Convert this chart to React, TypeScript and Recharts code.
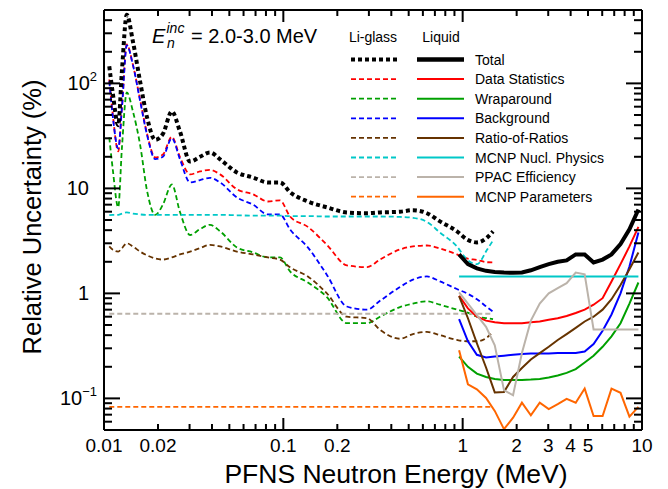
import React from 'react';
import { LineChart, Line, XAxis, YAxis, Customized } from 'recharts';

const FONT = '"Liberation Sans", Arial, Helvetica, sans-serif';

// ---- Li-glass detector (dashed curves) ----
const liEnergy = [0.0107, 0.0112, 0.012, 0.0126, 0.0134, 0.0145, 0.0159, 0.0174, 0.0193, 0.0213, 0.0239, 0.0265, 0.0302, 0.0343, 0.039, 0.0444, 0.0551, 0.0678, 0.0821, 0.0958, 0.109, 0.137, 0.175, 0.226, 0.293, 0.346, 0.447, 0.528, 0.632, 0.747, 0.929, 1.057, 1.202, 1.367, 1.477];
const liTotal = [146, 80, 40, 135, 450, 250, 104, 47, 29, 33, 54, 35, 18, 20, 22, 18.9, 14.2, 12.7, 11.4, 11.4, 9.2, 7.5, 6.6, 5.9, 5.8, 5.9, 6.0, 6.2, 5.8, 4.85, 3.9, 3.27, 3.06, 3.4, 3.9];
const liStat = [109, 50, 22.5, 60, 235, 150, 70, 33, 19.7, 21, 31, 20, 13.6, 14.5, 15, 13.6, 9.8, 8.8, 7.5, 7.7, 5.4, 4.3, 2.9, 1.85, 1.78, 2.1, 2.62, 2.8, 2.86, 2.68, 2.35, 2.15, 2.08, 1.98, 1.97];
const liWrap = [30.6, 15, 6.6, 25, 82, 54, 26, 9.4, 5.6, 7, 10.9, 6.0, 3.6, 4.1, 4.5, 3.9, 2.74, 2.46, 2.2, 2.2, 1.62, 1.27, 0.92, 0.52, 0.52, 0.6, 0.74, 0.8, 0.84, 0.78, 0.7, 0.66, 0.6, 0.58, 0.57];
const liBkg = [105, 48, 24, 60, 230, 150, 68, 32, 19, 20, 30, 19, 11.4, 12, 12.6, 11.4, 8.2, 7.0, 5.65, 5.65, 4.07, 2.74, 1.5, 0.75, 0.7, 0.85, 1.15, 1.35, 1.45, 1.3, 1.1, 1.0, 0.88, 0.74, 0.67];
const liRor = [2.8, 2.6, 2.5, 2.7, 3.0, 2.8, 2.5, 2.3, 2.15, 2.1, 2.2, 2.35, 2.5, 2.7, 2.9, 2.8, 2.5, 2.35, 2.2, 2.1, 1.77, 1.45, 1.0, 0.6, 0.58, 0.45, 0.37, 0.41, 0.43, 0.4, 0.36, 0.35, 0.35, 0.38, 0.43];
const liMcnp = [5.57, 5.6, 5.6, 5.75, 5.9, 5.75, 5.65, 5.6, 5.6, 5.6, 5.6, 5.6, 5.6, 5.6, 5.6, 5.6, 5.55, 5.5, 5.5, 5.5, 5.45, 5.45, 5.4, 5.4, 5.4, 5.4, 5.35, 5.25, 4.8, 3.8, 2.8, 2.1, 1.9, 2.6, 3.2];
const liPpac = [0.64, 0.64, 0.64, 0.64, 0.64, 0.64, 0.64, 0.64, 0.64, 0.64, 0.64, 0.64, 0.64, 0.64, 0.64, 0.64, 0.64, 0.64, 0.64, 0.64, 0.64, 0.64, 0.64, 0.64, 0.64, 0.64, 0.64, 0.64, 0.64, 0.64, 0.64, 0.64, 0.64, 0.64, 0.64];
const liPar = [0.083, 0.083, 0.083, 0.083, 0.083, 0.083, 0.083, 0.083, 0.083, 0.083, 0.083, 0.083, 0.083, 0.083, 0.083, 0.083, 0.083, 0.083, 0.083, 0.083, 0.083, 0.083, 0.083, 0.083, 0.083, 0.083, 0.083, 0.083, 0.083, 0.083, 0.083, 0.083, 0.083, 0.083, 0.083];

// ---- Liquid scintillator (solid curves) ----
const lqEnergy = [0.955, 1.07, 1.2, 1.35, 1.51, 1.7, 1.91, 2.14, 2.4, 2.69, 3.02, 3.39, 3.8, 4.27, 4.79, 5.37, 6.03, 6.76, 7.59, 8.51, 9.55];
const lqTotal = [2.35, 1.9, 1.73, 1.64, 1.6, 1.58, 1.57, 1.58, 1.66, 1.78, 1.9, 2.0, 2.06, 2.35, 2.35, 1.97, 2.1, 2.35, 2.95, 4.07, 6.3];
const lqStat = [0.95, 0.72, 0.6, 0.55, 0.53, 0.52, 0.52, 0.52, 0.53, 0.54, 0.56, 0.58, 0.61, 0.65, 0.7, 0.78, 0.9, 1.3, 1.9, 2.8, 4.3];
const lqWrap = [0.25, 0.2, 0.172, 0.16, 0.153, 0.15, 0.15, 0.15, 0.151, 0.153, 0.158, 0.165, 0.175, 0.19, 0.22, 0.255, 0.31, 0.39, 0.52, 0.8, 1.27];
const lqBkg = [0.57, 0.35, 0.26, 0.245, 0.25, 0.255, 0.26, 0.265, 0.268, 0.268, 0.268, 0.27, 0.27, 0.27, 0.28, 0.33, 0.44, 0.63, 1.0, 1.8, 3.8];
const lqRor = [0.94, 0.58, 0.335, 0.197, 0.114, 0.115, 0.16, 0.195, 0.235, 0.27, 0.31, 0.36, 0.41, 0.47, 0.54, 0.6, 0.7, 0.88, 1.2, 1.7, 2.45];
const lqMcnp = [1.45, 1.45, 1.45, 1.45, 1.45, 1.45, 1.45, 1.45, 1.45, 1.45, 1.45, 1.45, 1.45, 1.45, 1.45, 1.45, 1.45, 1.45, 1.45, 1.45, 1.45];
const lqPpac = [1.02, 0.8, 0.62, 0.48, 0.32, 0.12, 0.107, 0.27, 0.55, 0.8, 1.0, 1.12, 1.25, 1.58, 1.52, 0.454, 0.454, 0.454, 0.454, 0.454, 0.454];
const lqPar = [0.287, 0.136, 0.122, 0.101, 0.076, 0.051, 0.0655, 0.091, 0.069, 0.091, 0.079, 0.088, 0.099, 0.091, 0.124, 0.068, 0.068, 0.124, 0.113, 0.067, 0.083];

// ---- axis ticks ----
const xTicks = [0.01, 0.02, 0.03, 0.04, 0.05, 0.06, 0.07, 0.08, 0.09, 0.1, 0.2, 0.3, 0.4, 0.5, 0.6, 0.7, 0.8, 0.9, 1, 2, 3, 4, 5, 6, 7, 8, 9, 10];
const xMajor = [0.01, 0.1, 1, 10];
const xLabelValues = [0.01, 0.02, 0.1, 0.2, 1, 2, 3, 4, 5, 10];
const xLabelTexts = ['0.01', '0.02', '0.1', '0.2', '1', '2', '3', '4', '5', '10'];

const yTicks = [0.06, 0.07, 0.08, 0.09, 0.1, 0.2, 0.3, 0.4, 0.5, 0.6, 0.7, 0.8, 0.9, 1, 2, 3, 4, 5, 6, 7, 8, 9, 10, 20, 30, 40, 50, 60, 70, 80, 90, 100, 200, 300, 400];
const yMajor = [0.1, 1, 10, 100];
const yLabelValues = [0.1, 1, 10, 100];
const yLabelBase = ['10', '1', '10', '10'];
const yLabelExp = ['\u22121', '', '', '2'];

const legendNames = ['Total', 'Data Statistics', 'Wraparound', 'Background', 'Ratio-of-Ratios', 'MCNP Nucl. Physics', 'PPAC Efficiency', 'MCNP Parameters'];
const legendColors = ['#000000', '#ff0000', '#00a000', '#0000ff', '#663300', '#00c8c8', '#bbb3aa', '#ff6600'];

const same = (a: number, b: number) => Math.abs(a - b) < 1e-6 * Math.abs(b);
const idxOf = (arr: number[], v: number) => arr.findIndex((a) => same(a, v));

const pts = (xs: number[], ys: number[]) => xs.map((e, i) => ({ e, v: ys[i] }));

const liSeries = [liStat, liWrap, liBkg, liRor, liMcnp, liPpac, liPar];
const lqSeries = [lqStat, lqWrap, lqBkg, lqRor, lqMcnp, lqPpac, lqPar];

const LI_DASH = '5 3';
const TOTAL_DASH = '4 3';

const BottomTick = (p: any) => {
  const v = p.payload.value;
  const len = idxOf(xMajor, v) >= 0 ? 12 : 6;
  const li = idxOf(xLabelValues, v);
  return (
    <g>
      <line x1={p.x} y1={p.y} x2={p.x} y2={p.y - len} stroke="#000" strokeWidth={2} />
      {li >= 0 && (
        <text x={p.x} y={p.y + 22} textAnchor="middle" fontSize={19} fontFamily={FONT} fill="#000">
          {xLabelTexts[li]}
        </text>
      )}
    </g>
  );
};

const TopTick = (p: any) => {
  const v = p.payload.value;
  const len = idxOf(xMajor, v) >= 0 ? 12 : 6;
  return <line x1={p.x} y1={p.y} x2={p.x} y2={p.y + len} stroke="#000" strokeWidth={2} />;
};

const LeftTick = (p: any) => {
  const v = p.payload.value;
  const len = idxOf(yMajor, v) >= 0 ? 16 : 8;
  const li = idxOf(yLabelValues, v);
  const exp = li >= 0 ? yLabelExp[li] : '';
  return (
    <g>
      <line x1={p.x} y1={p.y} x2={p.x + len} y2={p.y} stroke="#000" strokeWidth={2} />
      {li >= 0 && (
        <text x={exp ? p.x - 7 : p.x - 15} y={p.y + 7} textAnchor="end" fontSize={20} fontFamily={FONT} fill="#000">
          {yLabelBase[li]}
          {exp && (
            <tspan dy={-9} fontSize={13}>
              {exp}
            </tspan>
          )}
        </text>
      )}
    </g>
  );
};

const RightTick = (p: any) => {
  const v = p.payload.value;
  const len = idxOf(yMajor, v) >= 0 ? 16 : 8;
  return <line x1={p.x} y1={p.y} x2={p.x - len} y2={p.y} stroke="#000" strokeWidth={2} />;
};

const Overlay = () => {
  const rowY0 = 59.5;
  const rowStep = 19.6;
  return (
    <g fontFamily={FONT} fill="#000">
      {/* energy-range title */}
      <text x={152} y={42.5} fontSize={20} fontStyle="italic">E</text>
      <text x={166.5} y={33} fontSize={14} fontStyle="italic">inc</text>
      <text x={167} y={48} fontSize={14} fontStyle="italic">n</text>
      <text x={191} y={42.5} fontSize={20}>= 2.0-3.0 MeV</text>

      {/* legend */}
      <text x={373} y={42} fontSize={14} textAnchor="middle">Li-glass</text>
      <text x={441} y={42} fontSize={14} textAnchor="middle">Liquid</text>
      {legendNames.map((name, i) => {
        const y = rowY0 + i * rowStep;
        const total = i === 0;
        return (
          <g key={name}>
            <line
              x1={351}
              y1={y}
              x2={397}
              y2={y}
              stroke={legendColors[i]}
              strokeWidth={total ? 4 : 1.8}
              strokeDasharray={total ? TOTAL_DASH : LI_DASH}
            />
            <line x1={417} y1={y} x2={464} y2={y} stroke={legendColors[i]} strokeWidth={total ? 4.5 : 2} />
            <text x={475} y={y + 5} fontSize={14}>{name}</text>
          </g>
        );
      })}

      {/* axis titles */}
      <text x={396} y={483} fontSize={26.5} textAnchor="middle">PFNS Neutron Energy (MeV)</text>
      <text x={41} y={217} fontSize={25.5} textAnchor="middle" transform="rotate(-90 41 217)">
        Relative Uncertainty (%)
      </text>
    </g>
  );
};

export default function App() {
  return (
    <div style={{ position: 'absolute', left: 0, top: 0, background: '#fff' }}>
      <LineChart width={668} height={489} margin={{ top: 0, right: 0, bottom: 0, left: 0 }}>
        <XAxis
          xAxisId={0}
          dataKey="e"
          type="number"
          scale="log"
          domain={[0.01, 10]}
          allowDataOverflow
          ticks={xTicks}
          interval={0}
          tickSize={0}
          tickMargin={0}
          tickLine={false}
          tick={<BottomTick />}
          axisLine={{ stroke: '#000', strokeWidth: 2 }}
          height={59}
        />
        <XAxis
          xAxisId="top"
          orientation="top"
          dataKey="e"
          type="number"
          scale="log"
          domain={[0.01, 10]}
          allowDataOverflow
          ticks={xTicks}
          interval={0}
          tickSize={0}
          tickMargin={0}
          tickLine={false}
          tick={<TopTick />}
          axisLine={{ stroke: '#000', strokeWidth: 2 }}
          height={10}
        />
        <YAxis
          yAxisId={0}
          dataKey="v"
          type="number"
          scale="log"
          domain={[0.05, 500]}
          allowDataOverflow
          ticks={yTicks}
          interval={0}
          tickSize={0}
          tickMargin={0}
          tickLine={false}
          tick={<LeftTick />}
          axisLine={{ stroke: '#000', strokeWidth: 2 }}
          width={104}
        />
        <YAxis
          yAxisId="right"
          orientation="right"
          dataKey="v"
          type="number"
          scale="log"
          domain={[0.05, 500]}
          allowDataOverflow
          ticks={yTicks}
          interval={0}
          tickSize={0}
          tickMargin={0}
          tickLine={false}
          tick={<RightTick />}
          axisLine={{ stroke: '#000', strokeWidth: 2 }}
          width={26}
        />

        {liSeries.map((s, i) => (
          <Line
            key={'li' + i}
            data={pts(liEnergy, s)}
            dataKey="v"
            type="monotone"
            stroke={legendColors[i + 1]}
            strokeWidth={1.8}
            strokeDasharray={LI_DASH}
            dot={false}
            activeDot={false}
            isAnimationActive={false}
          />
        ))}
        {lqSeries.map((s, i) => (
          <Line
            key={'lq' + i}
            data={pts(lqEnergy, s)}
            dataKey="v"
            type="linear"
            stroke={legendColors[i + 1]}
            strokeWidth={2}
            dot={false}
            activeDot={false}
            isAnimationActive={false}
          />
        ))}
        <Line
          data={pts(liEnergy, liTotal)}
          dataKey="v"
          type="monotone"
          stroke="#000"
          strokeWidth={4}
          strokeDasharray={TOTAL_DASH}
          dot={false}
          activeDot={false}
          isAnimationActive={false}
        />
        <Line
          data={pts(lqEnergy, lqTotal)}
          dataKey="v"
          type="linear"
          stroke="#000"
          strokeWidth={4}
          dot={false}
          activeDot={false}
          isAnimationActive={false}
        />
        <Customized component={Overlay} />
      </LineChart>
    </div>
  );
}
